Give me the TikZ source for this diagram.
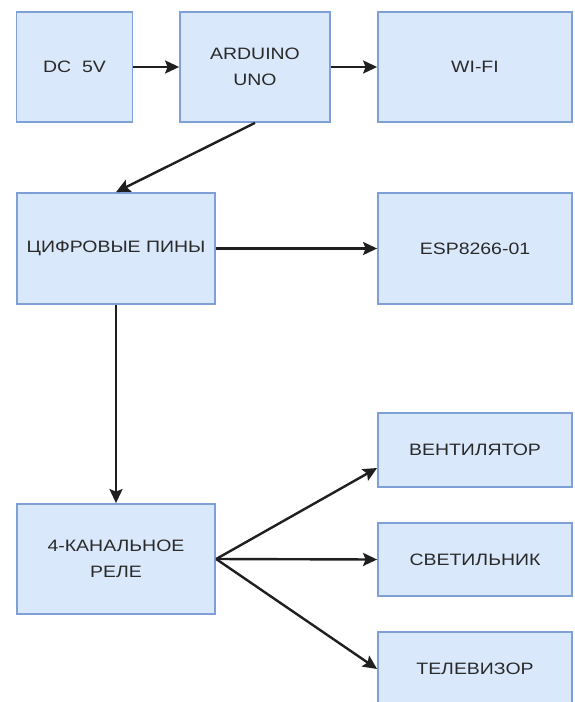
\documentclass[tikz,border=0pt]{standalone}
\usepackage{fontspec}
\setmainfont[FakeStretch=1.18]{Liberation Sans}
\usetikzlibrary{arrows.meta}
\definecolor{boxfill}{HTML}{DAE8FC}
\definecolor{boxline}{HTML}{7EA0D6}
\definecolor{txt}{HTML}{2A2A2A}
\begin{document}
\begin{tikzpicture}[x=1pt,y=-1pt,
 blk/.style={draw=boxline,fill=boxfill,line width=1.8pt,inner sep=0pt,text=txt,align=center,font=\fontsize{16.5}{26}\selectfont},
 conn/.style={line width=2.4pt,draw=black!88,-{Stealth[length=14pt,width=13pt,inset=2.5pt]}}]
\useasboundingbox (0,0) rectangle (574,702);
\clip (0,0) rectangle (574,702);
\node[blk,minimum width=116pt,minimum height=110pt] (dc) at (74.5,67) {DC\ \ 5V};
\node[blk,minimum width=150pt,minimum height=110pt] (ard) at (255,67) {ARDUINO\\UNO};
\node[blk,minimum width=194pt,minimum height=110pt] (wifi) at (475,67) {WI-FI};
\node[blk,minimum width=198.5pt,minimum height=111pt] (pins) at (116,248.5) {ЦИФРОВЫЕ ПИНЫ};
\node[blk,minimum width=194pt,minimum height=111pt] (esp) at (475,248.5) {ESP8266-01};
\node[blk,minimum width=198.5pt,minimum height=110pt] (relay) at (116,559) {4-КАНАЛЬНОЕ\\РЕЛЕ};
\node[blk,minimum width=194pt,minimum height=74pt] (vent) at (475,450) {ВЕНТИЛЯТОР};
\node[blk,minimum width=194pt,minimum height=73pt] (svet) at (475,559.5) {СВЕТИЛЬНИК};
\node[blk,minimum width=194pt,minimum height=74pt] (tele) at (475,669) {ТЕЛЕВИЗОР};
\draw[conn] (dc.east) -- (ard.west);
\draw[conn] (ard.east) -- (wifi.west);
\draw[conn] (ard.south) -- (pins.north);
\draw[conn] (pins.east) -- (esp.west);
\draw[conn] (pins.south) -- (relay.north);
\draw[conn] (relay.east) -- ([yshift=-18pt]vent.west);
\draw[conn] (relay.east) -- (svet.west);
\draw[conn] (relay.east) -- (tele.west);
\end{tikzpicture}
\end{document}
